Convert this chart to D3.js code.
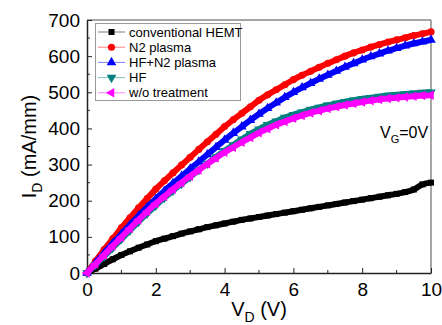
<!DOCTYPE html>
<html>
<head>
<meta charset="utf-8">
<script src="https://cdn.jsdelivr.net/npm/d3@7"></script>
<style>
  body { margin: 0; background: #fff; }
  svg { font-family: "Liberation Sans", Arial, sans-serif; }
</style>
</head>
<body>
<svg id="chart" width="442" height="325"></svg>
<script>
"use strict";

// drain voltage (V), every 0.25 V
const vd = d3.range(0, 10.001, 0.25);

// drain current (mA/mm)
const conventional = [0, 12, 25, 38, 50, 60, 70, 79, 88, 95, 102, 109, 115, 121, 127, 132, 137, 142, 147, 151,
  155, 159, 163, 167, 171, 175, 179, 183, 187, 191, 195, 199, 203, 207, 211, 215, 219, 224, 231, 245, 250];
const n2Plasma = [0, 33, 65, 95, 125, 153, 180, 206, 232, 255, 277, 299, 320, 342, 363, 384, 405, 424, 442, 460,
  478, 493, 507, 521, 535, 547, 558, 569, 580, 590, 600, 609, 617, 625, 632, 639, 645, 651, 657, 662, 667];
const hfN2Plasma = [0, 28, 55, 82, 108, 133, 158, 182, 205, 227, 248, 268, 288, 308, 328, 348, 368, 387, 405, 423,
  440, 456, 471, 486, 500, 513, 525, 537, 548, 559, 570, 580, 590, 599, 607, 615, 622, 629, 635, 640, 645];
const hf = [0, 23, 46, 70, 94, 118, 142, 165, 187, 208, 228, 247, 266, 285, 303, 321, 338, 354, 370, 385,
  398, 410, 420, 430, 438, 445, 452, 458, 464, 469, 474, 478, 482, 485, 488, 491, 493, 495, 497, 499, 500];
const woTreatment = [0, 25, 50, 75, 99, 123, 147, 170, 192, 212, 232, 250, 268, 285, 302, 318, 334, 348, 362, 375,
  388, 399, 410, 419, 428, 436, 443, 449, 455, 460, 465, 469, 473, 477, 480, 483, 485, 487, 489, 491, 492];

const seriesNames = ["conventional HEMT", "N2 plasma", "HF+N2 plasma", "HF", "w/o treatment"];
const seriesValues = [conventional, n2Plasma, hfN2Plasma, hf, woTreatment];
const seriesColors = ["#000000", "#ff0000", "#0000ff", "#008080", "#ff00ff"];

const xTicks = [0, 2, 4, 6, 8, 10];
const yTicks = [0, 100, 200, 300, 400, 500, 600, 700];

const margin = { left: 87, top: 20, right: 11, bottom: 52 };
const width = 442, height = 325;

const x = d3.scaleLinear().domain([0, 10]).range([margin.left, width - margin.right]);
const y = d3.scaleLinear().domain([0, 700]).range([height - margin.bottom, margin.top]);

const svg = d3.select("#chart");

// marker for each series
const markerFor = function (i) {
  const shapes = [
    { type: d3.symbolSquare, size: 36, rot: 0 },
    { type: d3.symbolCircle, size: 40, rot: 0 },
    { type: d3.symbolTriangle, size: 40, rot: 0 },
    { type: d3.symbolTriangle, size: 40, rot: 180 },
    { type: d3.symbolTriangle, size: 40, rot: -90 }
  ];
  return shapes[i];
};

// frame: top and right in grey
svg.append("line").attr("x1", x(0)).attr("x2", x(10)).attr("y1", y(700)).attr("y2", y(700))
  .attr("stroke", "#888").attr("stroke-width", 1.5);
svg.append("line").attr("x1", x(10)).attr("x2", x(10)).attr("y1", y(700)).attr("y2", y(0))
  .attr("stroke", "#888").attr("stroke-width", 1.5);

// bottom axis, ticks inward
const axisBottom = d3.axisBottom(x).tickValues(xTicks).tickSize(-5).tickPadding(10).tickSizeOuter(0);
const gx = svg.append("g").attr("transform", "translate(0," + y(0) + ")").call(axisBottom);
gx.selectAll("text").attr("font-size", 19).attr("fill", "#000").attr("font-family", "Liberation Sans, Arial");
gx.select(".domain").attr("stroke", "#222").attr("stroke-width", 1.5);
gx.selectAll(".tick line").attr("stroke", "#222");
// minor x ticks
svg.append("g").selectAll("line").data(d3.range(1, 10, 2)).join("line")
  .attr("x1", d => x(d)).attr("x2", d => x(d)).attr("y1", y(0)).attr("y2", y(0) - 3)
  .attr("stroke", "#222");

// left axis, ticks inward
const axisLeft = d3.axisLeft(y).tickValues(yTicks).tickSize(-5).tickPadding(7).tickSizeOuter(0);
const gy = svg.append("g").attr("transform", "translate(" + x(0) + ",0)").call(axisLeft);
gy.selectAll("text").attr("font-size", 19).attr("fill", "#000").attr("font-family", "Liberation Sans, Arial");
gy.select(".domain").attr("stroke", "#222").attr("stroke-width", 1.5);
gy.selectAll(".tick line").attr("stroke", "#222");
svg.append("g").selectAll("line").data(d3.range(50, 700, 100)).join("line")
  .attr("x1", x(0)).attr("x2", x(0) + 3).attr("y1", d => y(d)).attr("y2", d => y(d))
  .attr("stroke", "#222");

// series: a thick band under dense markers
const line = d3.line().x(d => x(d[0])).y(d => y(d[1])).curve(d3.curveMonotoneX);
seriesValues.forEach(function (vals, i) {
  const pts = vd.map((v, k) => [v, vals[k]]);
  const g = svg.append("g");
  g.append("path").datum(pts).attr("d", line).attr("fill", "none")
    .attr("stroke", seriesColors[i]).attr("stroke-width", 6);
  const m = markerFor(i);
  g.selectAll("path.mk").data(pts).join("path").attr("class", "mk")
    .attr("d", d3.symbol().type(m.type).size(m.size))
    .attr("transform", d => "translate(" + x(d[0]) + "," + y(d[1]) + ") rotate(" + m.rot + ")")
    .attr("fill", seriesColors[i]);
});

// legend
const legend = svg.append("g");
legend.append("rect").attr("x", 95.5).attr("y", 23.5).attr("width", 145).attr("height", 77)
  .attr("fill", "#fff").attr("stroke", "#999");
seriesNames.forEach(function (name, i) {
  const ly = 32 + i * 15.2;
  legend.append("line").attr("x1", 98).attr("x2", 125).attr("y1", ly).attr("y2", ly)
    .attr("stroke", seriesColors[i]).attr("stroke-opacity", 0.5);
  const m = markerFor(i);
  legend.append("path").attr("d", d3.symbol().type(m.type).size(m.size)())
    .attr("transform", "translate(111.5," + ly + ") rotate(" + m.rot + ")")
    .attr("fill", seriesColors[i]);
  legend.append("text").attr("x", 129).attr("y", ly + 4.5).attr("font-size", 13).text(name);
});

// annotation
const ann = svg.append("text").attr("x", 380).attr("y", 138).attr("font-size", 16);
ann.append("tspan").text("V");
ann.append("tspan").attr("font-size", 11).attr("dy", 5).text("G");
ann.append("tspan").attr("dy", -5).text("=0V");

// axis titles
const xt = svg.append("text").attr("x", (x(0) + x(10)) / 2).attr("y", 316)
  .attr("text-anchor", "middle").attr("font-size", 20);
xt.append("tspan").text("V");
xt.append("tspan").attr("font-size", 14).attr("dy", 6).text("D");
xt.append("tspan").attr("dy", -6).text(" (V)");

const yt = svg.append("text").attr("transform", "translate(36," + ((y(0) + y(700)) / 2) + ") rotate(-90)")
  .attr("text-anchor", "middle").attr("font-size", 20);
yt.append("tspan").text("I");
yt.append("tspan").attr("font-size", 14).attr("dy", 6).text("D");
yt.append("tspan").attr("dy", -6).text(" (mA/mm)");
</script>
</body>
</html>
